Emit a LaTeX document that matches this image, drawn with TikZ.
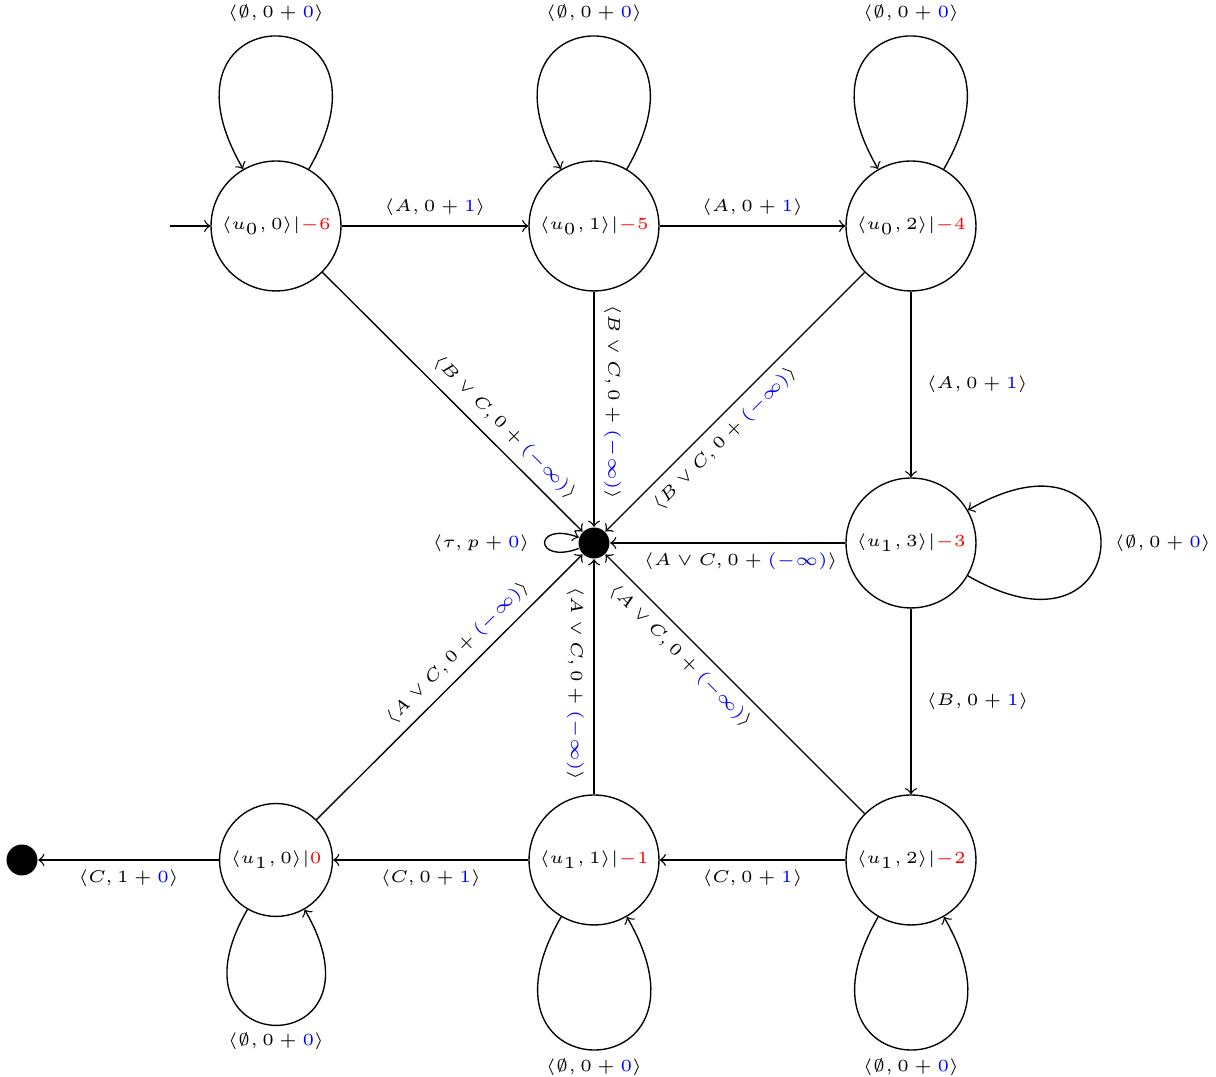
\documentclass[tikz,border=0pt]{standalone}
\usepackage{xcolor}
\begin{document}
\begin{tikzpicture}[x=0.294pt,y=0.294pt,font=\tiny,
  every node/.style={inner sep=2.8pt},
  stateb/.style={circle,draw,minimum size=38.2pt,inner sep=1pt},
  dotn/.style={circle,fill=black,minimum size=9.1pt,inner sep=0pt},
  selfloop/.style={looseness=8}]
\useasboundingbox (0,0) rectangle (1216,1077);
\node[stateb] (u00) at (276,851) {$\langle u_0, 0\rangle|\textcolor{red}{-6}$};
\node[stateb] (u01) at (594,851) {$\langle u_0, 1\rangle|\textcolor{red}{-5}$};
\node[stateb] (u02) at (911,851) {$\langle u_0, 2\rangle|\textcolor{red}{-4}$};
\node[stateb] (u13) at (911,534) {$\langle u_1, 3\rangle|\textcolor{red}{-3}$};
\node[stateb] (u12) at (911,217) {$\langle u_1, 2\rangle|\textcolor{red}{-2}$};
\node[stateb] (u11) at (594,217) {$\langle u_1, 1\rangle|\textcolor{red}{-1}$};
\node[stateb,minimum size=33.2pt] (u10) at (276,217) {$\langle u_1, 0\rangle|\textcolor{red}{0}$};
\node[dotn] (d) at (594,534) {};
\node[dotn] (e) at (22,217) {};
\coordinate (init) at (170,851);

\draw[->] (init) -- (u00);
\draw[->] (u00) -- node[above]{$\langle A, 0 + \textcolor{blue}{1}\rangle$} (u01);
\draw[->] (u01) -- node[above]{$\langle A, 0 + \textcolor{blue}{1}\rangle$} (u02);
\draw[->] (u02) -- node[right,xshift=1.5pt]{$\langle A, 0 + \textcolor{blue}{1}\rangle$} (u13);
\draw[->] (u13) -- node[right,xshift=1.5pt]{$\langle B, 0 + \textcolor{blue}{1}\rangle$} (u12);
\draw[->] (u12) -- node[below]{$\langle C, 0 + \textcolor{blue}{1}\rangle$} (u11);
\draw[->] (u11) -- node[below]{$\langle C, 0 + \textcolor{blue}{1}\rangle$} (u10);
\draw[->] (u10) -- node[below]{$\langle C, 1 + \textcolor{blue}{0}\rangle$} (e);

\draw[->] (u00) -- node[pos=0.65,anchor=south,rotate=-45]{$\langle B \vee C, 0 + \textcolor{blue}{(-\infty)}\rangle$} (d);
\draw[->] (u01) -- node[pos=0.47,anchor=south,rotate=-90]{$\langle B \vee C, 0 + \textcolor{blue}{(-\infty)}\rangle$} (d);
\draw[->] (u02) -- node[pos=0.59,anchor=north,rotate=45]{$\langle B \vee C, 0 + \textcolor{blue}{(-\infty)}\rangle$} (d);
\draw[->] (u13) -- node[pos=0.445,anchor=north]{$\langle A \vee C, 0 + \textcolor{blue}{(-\infty)}\rangle$} (d);
\draw[->] (u12) -- node[pos=0.66,anchor=north,rotate=-45]{$\langle A \vee C, 0 + \textcolor{blue}{(-\infty)}\rangle$} (d);
\draw[->] (u11) -- node[pos=0.47,anchor=north,rotate=-90]{$\langle A \vee C, 0 + \textcolor{blue}{(-\infty)}\rangle$} (d);
\draw[->] (u10) -- node[pos=0.58,anchor=south,rotate=45]{$\langle A \vee C, 0 + \textcolor{blue}{(-\infty)}\rangle$} (d);

\draw[->] (u00) to[out=60,in=120,selfloop] node[pos=0.5,yshift=6.8pt]{$\langle \emptyset, 0 + \textcolor{blue}{0}\rangle$} (u00);
\draw[->] (u01) to[out=60,in=120,selfloop] node[pos=0.5,yshift=6.8pt]{$\langle \emptyset, 0 + \textcolor{blue}{0}\rangle$} (u01);
\draw[->] (u02) to[out=60,in=120,selfloop] node[pos=0.5,yshift=6.8pt]{$\langle \emptyset, 0 + \textcolor{blue}{0}\rangle$} (u02);
\draw[->] (u13) to[out=-30,in=30,selfloop] node[pos=0.5,anchor=west,xshift=1pt]{$\langle \emptyset, 0 + \textcolor{blue}{0}\rangle$} (u13);
\draw[->] (u12) to[out=240,in=300,selfloop] node[pos=0.5,yshift=-5pt]{$\langle \emptyset, 0 + \textcolor{blue}{0}\rangle$} (u12);
\draw[->] (u11) to[out=240,in=300,selfloop] node[pos=0.5,yshift=-5pt]{$\langle \emptyset, 0 + \textcolor{blue}{0}\rangle$} (u11);
\draw[->] (u10) to[out=240,in=300,selfloop] node[pos=0.5,yshift=-4.7pt]{$\langle \emptyset, 0 + \textcolor{blue}{0}\rangle$} (u10);
\draw[->] (d) to[out=200,in=160,min distance=14.2pt] node[pos=0.5,anchor=east,xshift=-1.4pt]{$\langle \tau, p + \textcolor{blue}{0}\rangle$} (d);
\end{tikzpicture}
\end{document}
